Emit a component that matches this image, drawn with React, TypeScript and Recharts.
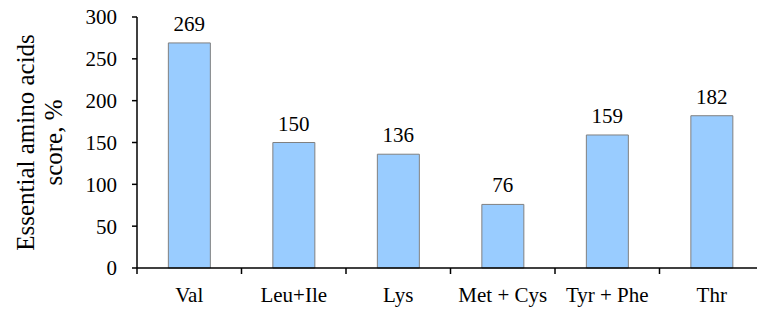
import React from "react";
import { BarChart, Bar, XAxis, YAxis, LabelList, Label } from "recharts";

const categories = ["Val", "Leu+Ile", "Lys", "Met + Cys", "Tyr + Phe", "Thr"];
const scores = [269, 150, 136, 76, 159, 182];
const yTicks = [0, 50, 100, 150, 200, 250, 300];
const yTitleLines = ["Essential amino acids", "score, %"];

const data = categories.map((name, i) => ({ name, score: scores[i] }));

const FONT = "'Liberation Serif', 'Times New Roman', serif";
const CHART_W = 770;
const CHART_H = 311;
const MARGIN = { top: 17, right: 6, bottom: 0, left: 0 };
const Y_W = 137;

const XTick = (props: any) => {
  const { x, y, payload, index, visibleTicksCount } = props;
  const n = visibleTicksCount || categories.length;
  const bw = (CHART_W - MARGIN.left - MARGIN.right - Y_W) / n;
  const axisY = y;
  return (
    <g>
      <line x1={x - bw / 2} x2={x - bw / 2} y1={axisY} y2={axisY + 6} stroke="#000" strokeWidth={1.5} />
      {index === n - 1 && (
        <line x1={x + bw / 2} x2={x + bw / 2} y1={axisY} y2={axisY + 6} stroke="#000" strokeWidth={1.5} />
      )}
      <text x={x} y={axisY + 19} dy="0.71em" textAnchor="middle" fill="#000" fontSize={21} fontFamily={FONT}>
        {payload.value}
      </text>
    </g>
  );
};

const YTitle = (props: any) => {
  const vb = props.viewBox || {};
  const cy = vb.y + vb.height / 2;
  const x1 = 25;
  const x2 = 53;
  return (
    <g>
      {yTitleLines.map((t, i) => {
        const cx = i === 0 ? x1 : x2;
        return (
          <text
            key={i}
            x={cx}
            y={cy}
            transform={`rotate(-90, ${cx}, ${cy})`}
            textAnchor="middle"
            dominantBaseline="central"
            fontSize={25}
            fontFamily={FONT}
            fill="#000"
          >
            {t}
          </text>
        );
      })}
    </g>
  );
};

export default function App() {
  return (
    <div style={{ position: "fixed", left: 0, top: 0, width: 757, height: 311, overflow: "hidden", background: "#fff" }}>
      <BarChart width={CHART_W} height={CHART_H} data={data} margin={MARGIN} barCategoryGap="30%">
        <XAxis
          dataKey="name"
          height={43}
          axisLine={{ stroke: "#000", strokeWidth: 1.5 }}
          tickLine={false}
          tickSize={0}
          tickMargin={0}
          tick={<XTick />}
          interval={0}
        />
        <YAxis
          width={Y_W}
          domain={[0, 300]}
          ticks={yTicks}
          interval={0}
          axisLine={{ stroke: "#000", strokeWidth: 1.5 }}
          tickLine={{ stroke: "#000", strokeWidth: 1.5 }}
          tickSize={5}
          tickMargin={15}
          tick={{ fill: "#000", fontSize: 21, fontFamily: FONT }}
        >
          <Label content={<YTitle />} />
        </YAxis>
        <Bar dataKey="score" fill="#99CCFF" stroke="#808080" strokeWidth={1} isAnimationActive={false}>
          <LabelList dataKey="score" position="top" offset={12} fill="#000" fontSize={21} fontFamily={FONT} />
        </Bar>
      </BarChart>
    </div>
  );
}
